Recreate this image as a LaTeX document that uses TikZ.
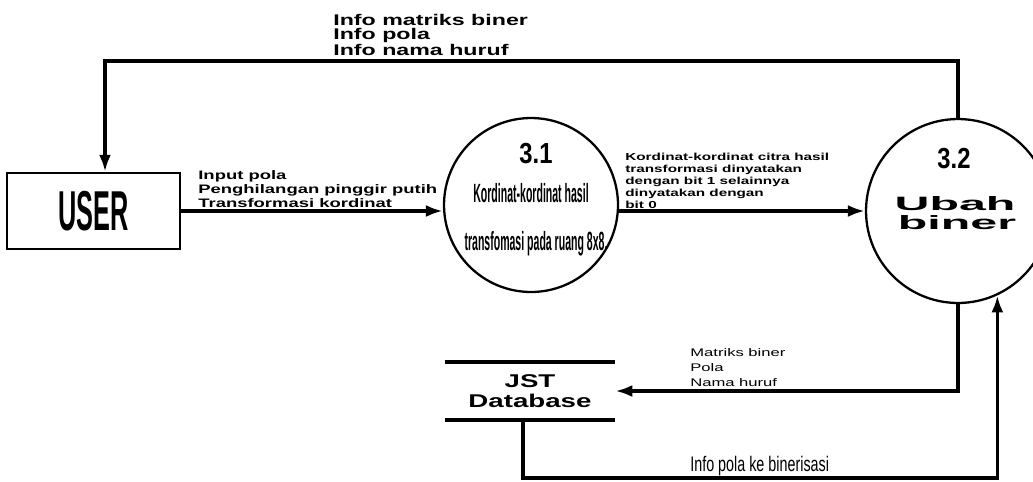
\documentclass[tikz,border=0pt]{standalone}
\usepackage{fontspec}
\setmainfont{Liberation Sans}
\newfontfamily\widefont[FakeStretch=1.5]{Liberation Sans}
\newfontfamily\blackfont[FakeStretch=2.5]{Liberation Sans}
\newfontfamily\condfont[FakeStretch=0.45]{Liberation Sans}
\newfontfamily\slimfont[FakeStretch=0.4]{Liberation Sans}
\newfontfamily\narrowfont[FakeStretch=0.68]{Liberation Sans}
\newfontfamily\numfont[FakeStretch=0.82]{Liberation Sans}
\usetikzlibrary{positioning,arrows.meta,calc}

\begin{document}
\begin{tikzpicture}[x=0.02cm,y=-0.02cm,>={Latex[length=3.4mm,width=2.4mm]},
  flow/.style={->,line width=2pt},
  proc/.style={draw,circle,line width=1.3pt,inner sep=0pt},
  num/.style={inner sep=0pt,font=\numfont\bfseries\fontsize{16.5}{16.5}\selectfont},
  lbl/.style={inner sep=0pt,align=left,anchor=north west}]
  \useasboundingbox (0,0) rectangle (1033,481);
  \node[draw,line width=1.4pt,minimum width=3.46cm,minimum height=1.52cm,
    font=\condfont\bfseries\fontsize{32}{32}\selectfont] (user) at (93.5,211) {USER};
  \node[proc,minimum size=3.48cm] (c31) at (531,205) {};
  \node[proc,minimum size=3.68cm] (c32) at (958,211) {};
  \node[inner sep=0pt,minimum width=3.4cm,minimum height=1.14cm,align=center,
    font=\widefont\bfseries\fontsize{10.5}{11.5}\selectfont] (jst) at (530,391) {JST\\Database};
  \draw[line width=2pt] (jst.north west) -- (jst.north east);
  \draw[line width=2pt] (jst.south west) -- (jst.south east);

  % isi proses
  \node[num] (n31) at ($(c31)+(5,-51)$) {3.1};
  \node[inner sep=0pt,anchor=base,font=\slimfont\bfseries\fontsize{15}{15}\selectfont] (p31a) at ($(c31)+(0,-3)$) {Kordinat-kordinat hasil};
  \node[inner sep=0pt,anchor=base,font=\slimfont\bfseries\fontsize{15}{15}\selectfont] (p31b) at ($(c31)+(5,45)$) {transfomasi pada ruang 8x8.};
  \node[num] (n32) at ($(c32)+(-4,-52)$) {3.2};
  \node[inner sep=0pt,anchor=base,font=\blackfont\bfseries\fontsize{11}{11}\selectfont] (p32a) at ($(c32)+(-3,-1)$) {Ubah};
  \node[inner sep=0pt,anchor=base,font=\blackfont\bfseries\fontsize{11}{11}\selectfont] (p32b) at ($(c32)+(-1,18)$) {biner};

  % aliran data
  \coordinate (topturn) at (105,61);
  \coordinate (dbturn) at (523,478);
  \draw[flow] (user.east) -- (user.east -| c31.west);
  \draw[flow] (c31.east |- c32.west) -- (c32.west);
  \draw[flow] (c32.north) |- (topturn) -- (topturn |- user.north);
  \draw[flow] (c32.south) |- (jst.east);
  \draw[flow] (jst.south -| dbturn) -- (dbturn) -| (c32.-65);

  \node[lbl,font=\widefont\bfseries\fontsize{8.8}{7.65}\selectfont] (ltop) at (333,14) {Info matriks biner\\Info pola\\Info nama huruf};
  \node[lbl,font=\widefont\bfseries\fontsize{7}{7.9}\selectfont] (lin) at (198,170) {Input pola\\Penghilangan pinggir putih\\Transformasi kordinat};
  \node[lbl,font=\widefont\bfseries\fontsize{5.8}{6.8}\selectfont] (lkor) at (625,153) {Kordinat-kordinat citra hasil\\transformasi dinyatakan\\dengan bit 1 selainnya\\dinyatakan dengan\\bit 0};
  \node[lbl,font=\widefont\fontsize{6.3}{8.5}\selectfont] (lmat) at (690,348) {Matriks biner\\Pola\\Nama huruf};
  \node[lbl,font=\narrowfont\fontsize{12}{12}\selectfont] (linfo) at (690,456) {Info pola ke binerisasi};
\end{tikzpicture}
\end{document}
